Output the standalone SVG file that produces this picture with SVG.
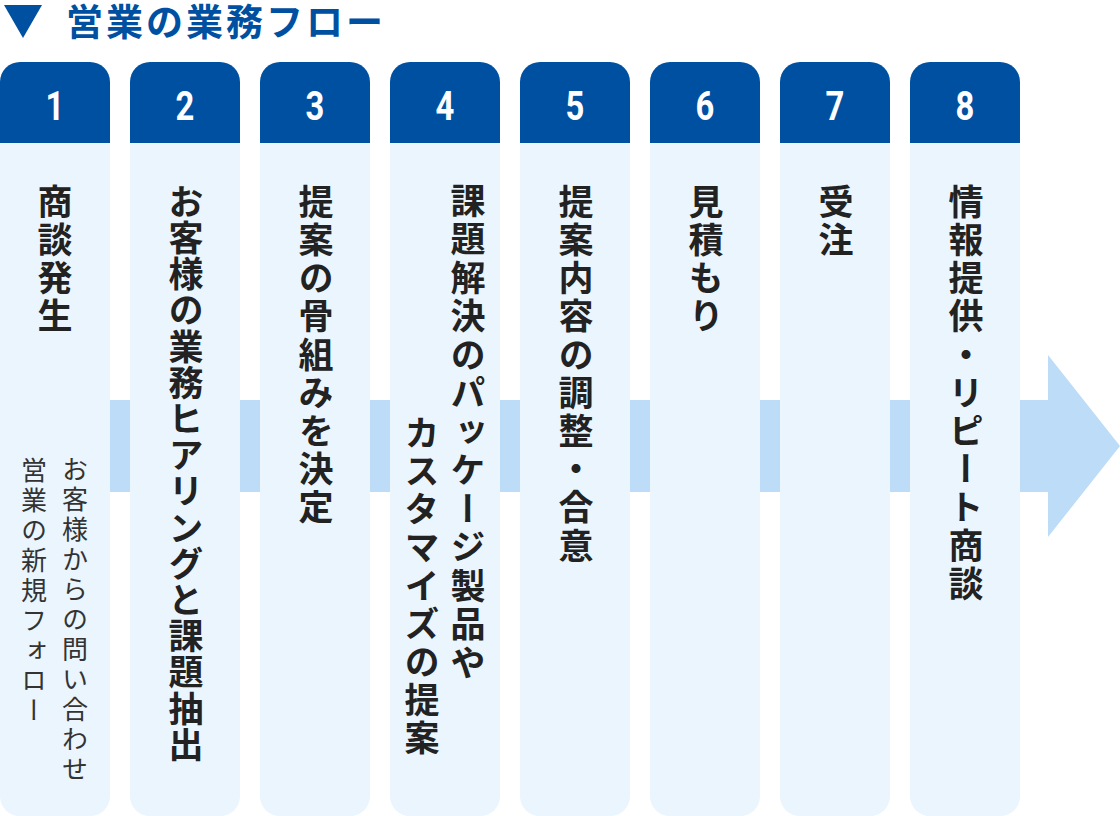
<svg xmlns="http://www.w3.org/2000/svg" width="1120" height="816" viewBox="0 0 1120 816">
<defs>
<style>
.hd{fill:#0050a2}
.bd{fill:#eaf5fe}
.cn{fill:#bddcf8}
.num{font-family:Roboto,"Liberation Sans",sans-serif;font-weight:700;font-size:40px;fill:#ffffff;text-anchor:middle}
.lbl{font-family:"Noto Sans CJK JP",sans-serif;font-weight:700;font-size:35px;fill:#222222;writing-mode:vertical-rl;letter-spacing:3.2px}
.sub{font-family:"Noto Sans CJK JP",sans-serif;font-weight:400;font-size:26px;fill:#333333;writing-mode:vertical-rl;letter-spacing:4px}
.ttl{font-family:"Noto Sans CJK JP",sans-serif;font-weight:700;font-size:37px;fill:#0050a2;letter-spacing:3px}
</style>
</defs>
<rect width="1120" height="816" fill="#ffffff"/>
<g id="title">
<polygon points="4,5 42,5 23,38" fill="#0050a2"/>
<text class="ttl" x="66" y="36">営業の業務フロー</text>
</g>
<g id="connectors">
<rect class="cn" x="110" y="400" width="20" height="92"/>
<rect class="cn" x="240" y="400" width="20" height="92"/>
<rect class="cn" x="370" y="400" width="20" height="92"/>
<rect class="cn" x="500" y="400" width="20" height="92"/>
<rect class="cn" x="630" y="400" width="20" height="92"/>
<rect class="cn" x="760" y="400" width="20" height="92"/>
<rect class="cn" x="890" y="400" width="20" height="92"/>
<polygon class="cn" points="1020,400 1048,400 1048,355 1120,446 1048,537 1048,492 1020,492"/>
</g>
<g id="step1">
<path class="hd" d="M0,143V82A20,20 0 0 1 20,62H90A20,20 0 0 1 110,82V143Z"/>
<path class="bd" d="M0,143H110V796A20,20 0 0 1 90,816H20A20,20 0 0 1 0,796Z"/>
<text class="num" transform="translate(55,120) scale(0.82,1)">1</text>
<text class="lbl" x="55" y="184">商談発生</text>
<text class="sub" x="75" y="456">お客様からの問い合わせ</text>
<text class="sub" x="34" y="457">営業の新規フォロー</text>
</g>
<g id="step2">
<path class="hd" d="M130,143V82A20,20 0 0 1 150,62H220A20,20 0 0 1 240,82V143Z"/>
<path class="bd" d="M130,143H240V796A20,20 0 0 1 220,816H150A20,20 0 0 1 130,796Z"/>
<text class="num" transform="translate(185,120) scale(0.82,1)">2</text>
<text class="lbl" x="186" y="184" style="letter-spacing:1.2px">お客様の業務ヒアリングと課題抽出</text>
</g>
<g id="step3">
<path class="hd" d="M260,143V82A20,20 0 0 1 280,62H350A20,20 0 0 1 370,82V143Z"/>
<path class="bd" d="M260,143H370V796A20,20 0 0 1 350,816H280A20,20 0 0 1 260,796Z"/>
<text class="num" transform="translate(315,120) scale(0.82,1)">3</text>
<text class="lbl" x="316" y="184">提案の骨組みを決定</text>
</g>
<g id="step4">
<path class="hd" d="M390,143V82A20,20 0 0 1 410,62H480A20,20 0 0 1 500,82V143Z"/>
<path class="bd" d="M390,143H500V796A20,20 0 0 1 480,816H410A20,20 0 0 1 390,796Z"/>
<text class="num" transform="translate(445,120) scale(0.82,1)">4</text>
<text class="lbl" x="468" y="183" style="letter-spacing:3.5px">課題解決のパッケージ製品や</text>
<text class="lbl" x="422" y="415" style="letter-spacing:3.2px">カスタマイズの提案</text>
</g>
<g id="step5">
<path class="hd" d="M520,143V82A20,20 0 0 1 540,62H610A20,20 0 0 1 630,82V143Z"/>
<path class="bd" d="M520,143H630V796A20,20 0 0 1 610,816H540A20,20 0 0 1 520,796Z"/>
<text class="num" transform="translate(575,120) scale(0.82,1)">5</text>
<text class="lbl" x="576" y="184">提案内容の調整・合意</text>
</g>
<g id="step6">
<path class="hd" d="M650,143V82A20,20 0 0 1 670,62H740A20,20 0 0 1 760,82V143Z"/>
<path class="bd" d="M650,143H760V796A20,20 0 0 1 740,816H670A20,20 0 0 1 650,796Z"/>
<text class="num" transform="translate(705,120) scale(0.82,1)">6</text>
<text class="lbl" x="706" y="184">見積もり</text>
</g>
<g id="step7">
<path class="hd" d="M780,143V82A20,20 0 0 1 800,62H870A20,20 0 0 1 890,82V143Z"/>
<path class="bd" d="M780,143H890V796A20,20 0 0 1 870,816H800A20,20 0 0 1 780,796Z"/>
<text class="num" transform="translate(835,120) scale(0.82,1)">7</text>
<text class="lbl" x="836" y="184">受注</text>
</g>
<g id="step8">
<path class="hd" d="M910,143V82A20,20 0 0 1 930,62H1000A20,20 0 0 1 1020,82V143Z"/>
<path class="bd" d="M910,143H1020V796A20,20 0 0 1 1000,816H930A20,20 0 0 1 910,796Z"/>
<text class="num" transform="translate(965,120) scale(0.82,1)">8</text>
<text class="lbl" x="966" y="184">情報提供・リピート商談</text>
</g>
</svg>
